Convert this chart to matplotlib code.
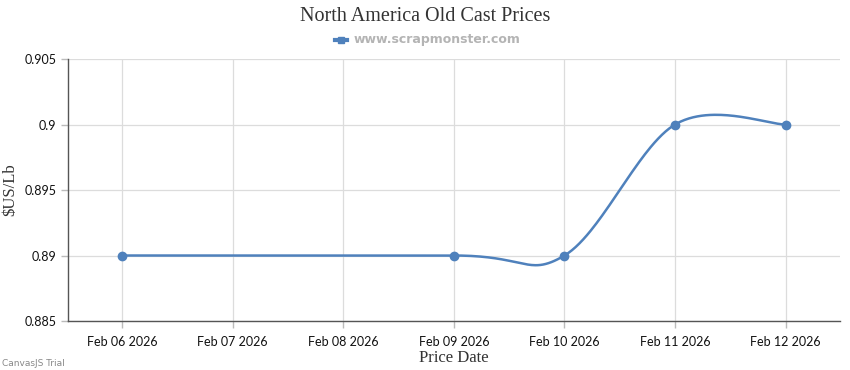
import numpy as np
import matplotlib
matplotlib.use("Agg")
import matplotlib.pyplot as plt
import matplotlib.dates as mdates
from matplotlib.ticker import FuncFormatter, MultipleLocator
from datetime import datetime

# data
dates = ["2026-02-06", "2026-02-09", "2026-02-10", "2026-02-11", "2026-02-12"]
prices = [0.89, 0.89, 0.89, 0.90, 0.90]
tick_days = ["2026-02-06", "2026-02-07", "2026-02-08", "2026-02-09",
             "2026-02-10", "2026-02-11", "2026-02-12"]

x = mdates.date2num([datetime.strptime(d, "%Y-%m-%d") for d in dates])
y = np.array(prices)
xt = mdates.date2num([datetime.strptime(d, "%Y-%m-%d") for d in tick_days])


# catmull-rom style spline through the points (like canvasjs spline)
def spline(px, py, n=60):
    pts = np.column_stack([px, py])
    out = []
    for i in range(len(pts) - 1):
        p0 = pts[i - 1] if i > 0 else pts[i]
        p1 = pts[i]
        p2 = pts[i + 1]
        p3 = pts[i + 2] if i + 2 < len(pts) else pts[i + 1]
        c1 = p1 + (p2 - p0) / 6.0
        c2 = p2 - (p3 - p1) / 6.0
        t = np.linspace(0, 1, n)[:, None]
        seg = ((1 - t) ** 3) * p1 + 3 * ((1 - t) ** 2) * t * c1 + 3 * (1 - t) * t ** 2 * c2 + t ** 3 * p2
        out.append(seg)
    out = np.vstack(out)
    return out[:, 0], out[:, 1]


sx, sy = spline(x, y)

blue = "#4F81BC"
fig = plt.figure(figsize=(8.5, 3.7), dpi=100)
ax = fig.add_axes([0.08, 0.1324, 0.908, 0.7081])

ax.plot(sx, sy, color=blue, lw=1.8, zorder=3)
ax.plot(x, y, "o", color=blue, ms=6, zorder=4)

ax.set_xlim(xt[0] - 0.49, xt[-1] + 0.49)
ax.set_ylim(0.885, 0.905)
ax.yaxis.set_major_locator(MultipleLocator(0.005))
ax.yaxis.set_major_formatter(FuncFormatter(lambda v, p: "%g" % round(v, 4)))
ax.set_xticks(xt)
ax.set_xticklabels([datetime.strptime(d, "%Y-%m-%d").strftime("%b %d %Y") for d in tick_days])

ax.grid(True, color="#dcdcdc", lw=0.9)
ax.set_axisbelow(True)
for s in ["top", "right"]:
    ax.spines[s].set_visible(False)
for s in ["left", "bottom"]:
    ax.spines[s].set_color("#555555")
    ax.spines[s].set_linewidth(1)
ax.tick_params(axis="both", colors="#bbbbbb", length=5, width=1, labelcolor="#111111",
               labelsize=9)
ax.tick_params(axis="x", pad=6)
for lab in ax.get_xticklabels() + ax.get_yticklabels():
    lab.set_family("Lato")

ax.set_xlabel("Price Date", family="Liberation Serif", fontsize=12, color="#333333", labelpad=1)
ax.set_ylabel("\\$US/Lb", family="Liberation Serif", fontsize=12, color="#333333")
ax.yaxis.set_label_coords(-0.064, 0.5)

fig.text(0.5, 0.955, "North America Old Cast Prices", ha="center", va="center",
         family="Liberation Serif", fontsize=14.5, color="#333333")
# legend
fig.lines.append(plt.Line2D([335 / 850, 347 / 850], [1 - 40 / 370] * 2, transform=fig.transFigure,
                            color=blue, lw=3))
fig.lines.append(plt.Line2D([341 / 850], [1 - 40 / 370], transform=fig.transFigure,
                            marker="s", color=blue, ms=5))
fig.text(354 / 850, 1 - 40 / 370, "www.scrapmonster.com", ha="left", va="center",
         family="DejaVu Sans", fontweight="bold", fontsize=9, color="#b4b4b4")

fig.text(2 / 850, 1 - 363 / 370, "CanvasJS Trial", ha="left", va="center",
         family="DejaVu Sans", fontsize=6.5, color="#888888")

fig.savefig("out.png", dpi=100)
